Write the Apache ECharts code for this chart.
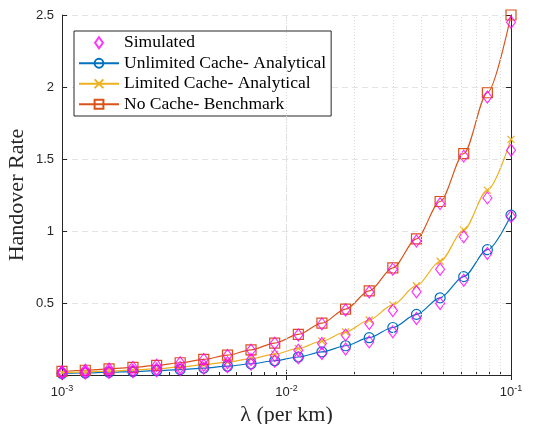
<!DOCTYPE html>
<html>
<head>
<meta charset="utf-8">
<script src="https://cdn.jsdelivr.net/npm/echarts@6/dist/echarts.min.js"></script>
<style>
  html, body { margin: 0; padding: 0; background: #fff; }
  #chart { width: 533px; height: 424px; }
</style>
</head>
<body>
<div id="chart"></div>
<script>
// lambda values (per km)
const lambda = [0.001, 0.00127, 0.00162, 0.00207, 0.00264, 0.00336, 0.00428, 0.00546, 0.00695, 0.00886,
  0.01129, 0.01438, 0.01833, 0.02336, 0.02976, 0.03793, 0.04833, 0.06158, 0.07848, 0.1]

const noCache = [0.025, 0.033, 0.042, 0.053, 0.067, 0.085, 0.108, 0.138, 0.175, 0.222,
  0.282, 0.36, 0.458, 0.584, 0.744, 0.946, 1.205, 1.537, 1.96, 2.5]
const limitedCache = [0.017, 0.022, 0.027, 0.035, 0.044, 0.056, 0.071, 0.09, 0.114, 0.145,
  0.185, 0.236, 0.3, 0.382, 0.487, 0.62, 0.79, 1.007, 1.284, 1.636]
const unlimitedCache = [0.011, 0.014, 0.019, 0.024, 0.03, 0.038, 0.048, 0.061, 0.078, 0.099,
  0.125, 0.16, 0.203, 0.259, 0.33, 0.421, 0.536, 0.683, 0.87, 1.11]

const simNoCache = [0.025, 0.033, 0.042, 0.053, 0.067, 0.085, 0.107, 0.136, 0.172, 0.22,
  0.278, 0.355, 0.452, 0.576, 0.735, 0.93, 1.19, 1.52, 1.93, 2.45]
const simLimited = [0.017, 0.021, 0.026, 0.033, 0.042, 0.053, 0.067, 0.085, 0.107, 0.135,
  0.172, 0.219, 0.277, 0.358, 0.448, 0.578, 0.735, 0.96, 1.23, 1.56]
const simUnlimited = [0.011, 0.014, 0.018, 0.023, 0.029, 0.036, 0.046, 0.058, 0.075, 0.095,
  0.12, 0.15, 0.18, 0.23, 0.3, 0.392, 0.497, 0.658, 0.844, 1.1]

const minorGrid = [0.002, 0.003, 0.004, 0.005, 0.006, 0.007, 0.008, 0.009,
  0.02, 0.03, 0.04, 0.05, 0.06, 0.07, 0.08, 0.09]

const serif = '"Liberation Serif", "DejaVu Serif", serif'
const sans = '"Liberation Sans", Arial, sans-serif'
const axisColor = '#262626'
const gridColor = '#e3e3e3'
const diamondPath = 'path://M5,0L10,7L5,14L0,7Z'

const pairs = (ys) => ys.map((y, i) => [lambda[i], y])

function supLabel(value) {
  const exp = Math.round(Math.log10(value))
  return '{b|10}{s|' + exp + '}'
}

function analytical(name, ys, color, symbol, size) {
  return {
    name,
    type: 'line',
    data: pairs(ys),
    symbol,
    symbolSize: size,
    smooth: 0.3,
    smoothMonotone: 'x',
    lineStyle: { color, width: 1.2 },
    itemStyle: { color: 'rgba(0,0,0,0)', borderColor: color, borderWidth: 1.2 },
    emphasis: { disabled: true },
    z: 3
  }
}

const chart = echarts.init(document.getElementById('chart'))

chart.setOption({
  animation: false,
  grid: { left: 62, right: 22, top: 15, bottom: 49, outerBoundsMode: 'none', containLabel: false },
  legend: {
    data: [
      { name: 'Simulated', icon: diamondPath },
      'Unlimited Cache- Analytical',
      'Limited Cache- Analytical',
      'No Cache- Benchmark'
    ],
    orient: 'vertical',
    left: 74,
    top: 31,
    itemWidth: 40,
    itemHeight: 11,
    itemGap: 1,
    symbolKeepAspect: true,
    padding: [2, 5, 2, 4],
    borderColor: axisColor,
    borderWidth: 1,
    backgroundColor: '#fff',
    textStyle: { fontFamily: serif, fontSize: 17.5, lineHeight: 19.5, color: '#000' }
  },
  xAxis: [
    {
      type: 'log',
      logBase: 10,
      min: 0.001,
      max: 0.1,
      name: 'λ (per km)',
      nameLocation: 'middle',
      nameGap: 23,
      nameTextStyle: { fontFamily: serif, fontSize: 22, color: axisColor },
      axisLine: { lineStyle: { color: axisColor } },
      axisTick: { inside: true, length: 5, lineStyle: { color: axisColor } },
      minorTick: { show: true, splitNumber: 9, length: 3, lineStyle: { color: axisColor } },
      splitLine: { show: true, lineStyle: { color: gridColor, type: [6, 4] } },
      axisLabel: {
        margin: 9,
        formatter: supLabel,
        rich: {
          b: { fontFamily: sans, fontSize: 13, color: axisColor },
          s: { fontFamily: sans, fontSize: 9, color: axisColor, padding: [0, 0, 8, 0] }
        }
      }
    },
    {
      type: 'log',
      logBase: 10,
      min: 0.001,
      max: 0.1,
      position: 'top',
      axisLine: { lineStyle: { color: axisColor } },
      axisTick: { inside: true, length: 5, lineStyle: { color: axisColor } },
      axisLabel: { show: false },
      splitLine: { show: false }
    }
  ],
  yAxis: [
    {
      type: 'value',
      min: 0,
      max: 2.5,
      interval: 0.5,
      name: 'Handover Rate',
      nameLocation: 'middle',
      nameGap: 34,
      nameMoveOverlap: false,
      nameTextStyle: { fontFamily: serif, fontSize: 22, color: axisColor },
      axisLine: { show: true, lineStyle: { color: axisColor } },
      axisTick: { show: true, inside: true, length: 5, lineStyle: { color: axisColor } },
      splitLine: { show: true, lineStyle: { color: gridColor, type: [6, 4] } },
      axisLabel: {
        fontFamily: sans,
        fontSize: 13,
        color: axisColor,
        margin: 8,
        formatter: (v) => (v === 0 ? '' : String(v))
      }
    },
    {
      type: 'value',
      min: 0,
      max: 2.5,
      interval: 0.5,
      position: 'right',
      axisLine: { show: true, lineStyle: { color: axisColor } },
      axisTick: { show: true, inside: true, length: 5, lineStyle: { color: axisColor } },
      axisLabel: { show: false },
      splitLine: { show: false }
    }
  ],
  series: [
    {
      type: 'line',
      data: [],
      silent: true,
      markLine: {
        silent: true,
        symbol: 'none',
        label: { show: false },
        lineStyle: { color: '#dcdcdc', type: [1, 2], width: 1 },
        data: minorGrid.map((v) => ({ xAxis: v }))
      },
      z: 1
    },
    analytical('Unlimited Cache- Analytical', unlimitedCache, '#0072BD', 'circle', 10),
    {
      ...analytical('Limited Cache- Analytical', limitedCache, '#EDB120', 'path://M0,0L10,10M10,0L0,10', 7),
      itemStyle: { color: 'rgba(0,0,0,0)', borderColor: '#EDB120', borderWidth: 1.2 }
    },
    analytical('No Cache- Benchmark', noCache, '#D95319', 'rect', 10),
    {
      name: 'Simulated',
      type: 'scatter',
      data: pairs(simNoCache).concat(pairs(simLimited), pairs(simUnlimited)),
      symbol: diamondPath,
      symbolSize: [9, 12],
      itemStyle: { color: 'rgba(0,0,0,0)', borderColor: '#FF00FF', borderWidth: 1.2 },
      emphasis: { disabled: true },
      z: 4
    }
  ]
})
</script>
</body>
</html>
